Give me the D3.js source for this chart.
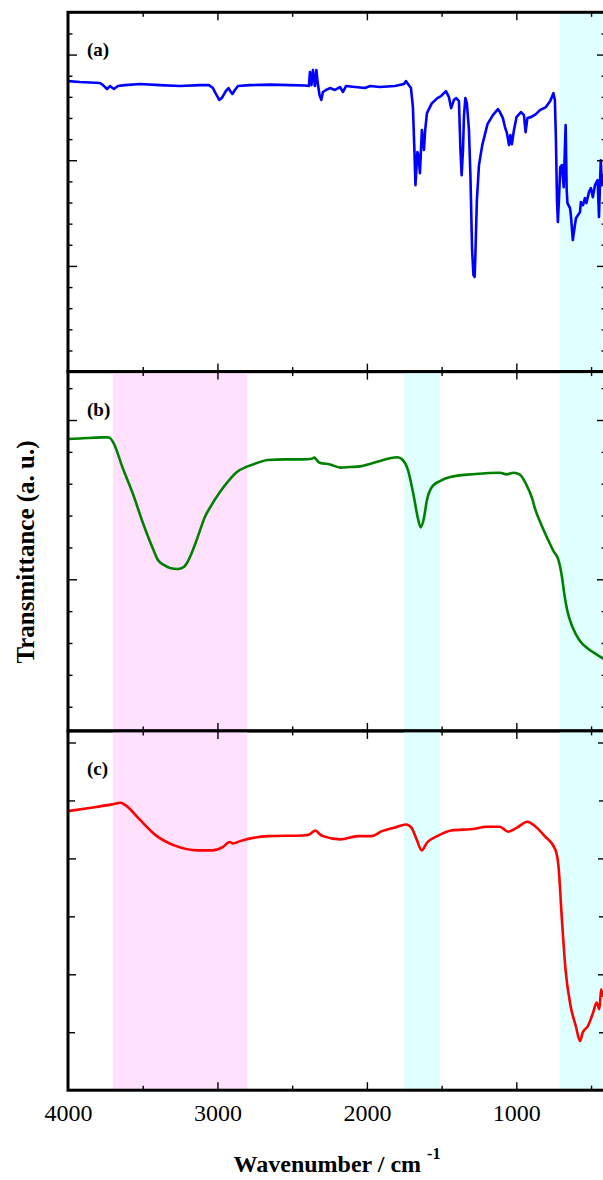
<!DOCTYPE html>
<html>
<head>
<meta charset="utf-8">
<script src="https://cdn.jsdelivr.net/npm/d3@7"></script>
<style>
body { margin: 0; background: #fff; }
svg { display: block; }
text { font-family: "Liberation Serif", "Times New Roman", serif; }
</style>
</head>
<body>
<svg id="chart" width="603" height="1180"></svg>
<script>
'use strict';

// spectrum (a) - blue
const wnA = [4000, 3920, 3786, 3766, 3739, 3719, 3693, 3666, 3619, 3518,
	3385, 3251, 3117, 3057, 3030, 3010, 2988, 2970, 2943, 2926,
	2910, 2900, 2883, 2863, 2783, 2649, 2515, 2415, 2388, 2381,
	2371, 2361, 2348, 2338, 2328, 2317, 2305, 2294, 2274, 2247,
	2214, 2180, 2160, 2140, 2080, 2013, 1979, 1913, 1812, 1752,
	1739, 1725, 1705, 1692, 1682, 1675, 1662, 1655, 1645, 1632,
	1618, 1610, 1598, 1565, 1528, 1504, 1471, 1451, 1436, 1418,
	1402, 1384, 1374, 1366, 1357, 1350, 1341, 1331, 1317, 1307,
	1296, 1287, 1279, 1274, 1264, 1250, 1228, 1193, 1157, 1123,
	1110, 1090, 1076, 1063, 1049, 1040, 1030, 1016, 999, 969,
	949, 938, 926, 902, 869, 842, 802, 773, 752, 742,
	735, 728, 722, 715, 706, 695, 683, 670, 663, 658,
	641, 635, 622, 608, 601, 574, 568, 554, 541, 531,
	514, 501, 488, 474, 456, 447, 435, 427, 414, 400];
const tA = [2.749, 2.740, 2.731, 2.711, 2.674, 2.702, 2.674, 2.702, 2.711, 2.721,
	2.711, 2.702, 2.711, 2.711, 2.683, 2.627, 2.571, 2.590, 2.656, 2.683,
	2.646, 2.627, 2.665, 2.702, 2.711, 2.716, 2.711, 2.707, 2.702, 2.834,
	2.711, 2.853, 2.702, 2.853, 2.721, 2.618, 2.571, 2.646, 2.665, 2.683,
	2.665, 2.693, 2.646, 2.702, 2.693, 2.683, 2.702, 2.693, 2.702, 2.721,
	2.749, 2.721, 2.683, 2.503, 2.097, 1.765, 2.078, 2.049, 1.878, 2.285,
	2.097, 2.285, 2.446, 2.540, 2.588, 2.607, 2.654, 2.597, 2.493, 2.569,
	2.588, 2.560, 2.097, 1.859, 2.097, 2.427, 2.588, 2.540, 2.285, 1.840,
	1.149, 0.913, 0.895, 1.103, 1.623, 1.954, 2.143, 2.342, 2.427, 2.484,
	2.456, 2.399, 2.314, 2.257, 2.143, 2.238, 2.152, 2.285, 2.408, 2.456,
	2.427, 2.266, 2.399, 2.408, 2.436, 2.474, 2.503, 2.560, 2.635, 2.569,
	2.191, 1.623, 1.415, 1.623, 1.935, 1.954, 1.745, 2.333, 1.718, 1.595,
	1.547, 1.481, 1.245, 1.387, 1.451, 1.509, 1.604, 1.575, 1.641, 1.595,
	1.698, 1.736, 1.651, 1.764, 1.812, 1.463, 2.000, 1.764, 1.859, 1.812];

// spectrum (b) - green
const wnB = [4000, 3920, 3776, 3733, 3719, 3694, 3637, 3567, 3498, 3428,
	3398, 3359, 3318, 3266, 3224, 3204, 3173, 3144, 3116, 3084,
	3046, 2983, 2930, 2870, 2803, 2736, 2663, 2548, 2432, 2368,
	2351, 2341, 2316, 2247, 2177, 2113, 2046, 1980, 1913, 1846,
	1795, 1760, 1725, 1690, 1656, 1640, 1621, 1598, 1564, 1511,
	1436, 1274, 1111, 1065, 1019, 976, 938, 891, 879, 832,
	787, 752, 718, 695, 678, 660, 625, 579, 509, 474,
	421, 400];
const tB = [1.881, 1.884, 1.891, 1.891, 1.887, 1.854, 1.707, 1.540, 1.352, 1.184,
	1.121, 1.090, 1.071, 1.065, 1.078, 1.102, 1.163, 1.234, 1.309, 1.391,
	1.456, 1.548, 1.613, 1.674, 1.707, 1.730, 1.749, 1.753, 1.753, 1.757,
	1.765, 1.755, 1.732, 1.721, 1.701, 1.705, 1.709, 1.724, 1.743, 1.760,
	1.766, 1.749, 1.686, 1.540, 1.372, 1.326, 1.372, 1.498, 1.581, 1.617,
	1.644, 1.661, 1.669, 1.659, 1.669, 1.657, 1.603, 1.498, 1.456, 1.341,
	1.247, 1.178, 1.121, 1.016, 0.901, 0.807, 0.702, 0.619, 0.556, 0.535,
	0.504, 0.493];

// spectrum (c) - red
const wnC = [4000, 3845, 3706, 3648, 3614, 3521, 3405, 3289, 3127, 3034,
	2965, 2918, 2896, 2849, 2663, 2432, 2386, 2344, 2314, 2293,
	2177, 2061, 1969, 1899, 1812, 1737, 1702, 1667, 1633, 1598,
	1529, 1436, 1274, 1204, 1111, 1054, 996, 926, 880, 810,
	740, 718, 695, 671, 637, 602, 574, 556, 521, 486,
	463, 444, 433, 421, 400];
const tC = [2.408, 2.437, 2.466, 2.480, 2.457, 2.336, 2.192, 2.112, 2.069, 2.069,
	2.097, 2.141, 2.129, 2.149, 2.192, 2.198, 2.207, 2.241, 2.207, 2.192,
	2.164, 2.192, 2.192, 2.235, 2.267, 2.293, 2.265, 2.164, 2.069, 2.135,
	2.192, 2.241, 2.256, 2.273, 2.273, 2.230, 2.265, 2.316, 2.284, 2.192,
	2.078, 1.934, 1.474, 1.043, 0.727, 0.554, 0.425, 0.497, 0.554, 0.670,
	0.756, 0.698, 0.871, 0.813, 0.871];

// shaded regions (wavenumber from, to)
const pinkBands = [[3700, 2800]];
const cyanBandsMid = [[1750, 1510]];
const cyanBandsLow = [[710, 400]];

const xMajorTicks = [4000, 3000, 2000, 1000];
const xMinorTicks = [3500, 2500, 1500, 500];
const panelLabels = ["(a)", "(b)", "(c)"];

const serif = '"Liberation Serif", "Times New Roman", serif';

let svg = d3.select("#chart");
let left = 68, right = 606;
let panelTop = [12.3, 371.6, 730.9], panelH = 359.3;

let x = d3.scaleLinear().domain([4000, 400]).range([left, right]);

let pink = "#ffe0fd", cyan = "#e0ffff";
let fullBands = pinkBands.map(b => [b, pink])
	.concat(cyanBandsMid.map(b => [b, cyan]), cyanBandsLow.map(b => [b, cyan]));

let panels = [
	{wn: wnA, t: tA, color: "#0000ff", domain: [0, 3.4],
	 major: [1, 2, 3], minor: [0.2, 0.4, 0.6, 0.8, 1.2, 1.4, 1.6, 1.8, 2.2, 2.4, 2.6, 2.8, 3.2],
	 majorLen: 9, minorLen: 4.5, bands: cyanBandsLow.map(b => [b, cyan])},
	{wn: wnB, t: tB, color: "#008000", domain: [0.048, 2.304],
	 major: [1, 2], minor: [0.2, 0.4, 0.6, 0.8, 1.2, 1.4, 1.6, 1.8, 2.2],
	 majorLen: 9, minorLen: 4.5, bands: fullBands},
	{wn: wnC, t: tC, color: "#ff0000", domain: [0, 3.1],
	 major: [1, 2, 3], minor: [0.5, 1.5, 2.5],
	 majorLen: 8, minorLen: 7, bands: fullBands}
];

panels.forEach(function (p, i) {
	let top = panelTop[i], bottom = top + panelH;
	let y = d3.scaleLinear().domain(p.domain).range([bottom, top]);
	let g = svg.append("g");

	g.append("clipPath").attr("id", "clip" + i)
		.append("rect").attr("x", left).attr("y", top).attr("width", right - left).attr("height", panelH);

	g.selectAll(".band")
		.data(p.bands)
		.enter().append("rect")
		.attr("x", d => x(d[0][0]))
		.attr("width", d => x(d[0][1]) - x(d[0][0]))
		.attr("y", top)
		.attr("height", panelH)
		.attr("fill", d => d[1]);

	let line = d3.line()
		.x(d => x(d[0]))
		.y(d => y(d[1]))
		.curve(i == 0 ? d3.curveLinear : d3.curveMonotoneX);

	g.append("path")
		.datum(d3.zip(p.wn, p.t))
		.attr("clip-path", "url(#clip" + i + ")")
		.attr("fill", "none")
		.attr("stroke", p.color)
		.attr("stroke-width", 2.6)
		.attr("stroke-linejoin", "round")
		.attr("d", line);

	// inward ticks on all four sides
	let addAxis = function (axis, tx, ty) {
		let a = g.append("g").attr("transform", "translate(" + tx + "," + ty + ")").call(axis);
		a.select(".domain").remove();
		a.selectAll("line").attr("stroke-width", 1.4);
		a.selectAll("text").remove();
	};
	addAxis(d3.axisLeft(y).tickValues(p.major).tickSize(-p.majorLen), left, 0);
	addAxis(d3.axisLeft(y).tickValues(p.minor).tickSize(-p.minorLen), left, 0);
	addAxis(d3.axisRight(y).tickValues(p.major).tickSize(-p.majorLen), right, 0);
	addAxis(d3.axisRight(y).tickValues(p.minor).tickSize(-p.minorLen), right, 0);
	addAxis(d3.axisTop(x).tickValues(xMajorTicks.slice(1)).tickSize(-8), 0, top);
	addAxis(d3.axisTop(x).tickValues(xMinorTicks).tickSize(-4.5), 0, top);
	addAxis(d3.axisBottom(x).tickValues(xMajorTicks.slice(1)).tickSize(-8), 0, bottom);
	addAxis(d3.axisBottom(x).tickValues(xMinorTicks).tickSize(-4.5), 0, bottom);

	g.append("rect")
		.attr("x", left).attr("y", top)
		.attr("width", right - left).attr("height", panelH)
		.attr("fill", "none").attr("stroke", "#000").attr("stroke-width", 3);

	g.append("text")
		.attr("x", 87).attr("y", top + 44)
		.style("font-family", serif)
		.style("font-size", "19px").style("font-weight", "bold")
		.text(panelLabels[i]);
});

// x tick labels under the last panel
let xl = svg.append("g")
	.attr("transform", "translate(0," + (panelTop[2] + panelH) + ")")
	.call(d3.axisBottom(x).tickValues(xMajorTicks).tickSize(0).tickPadding(14).tickFormat(d3.format("d")));
xl.select(".domain").remove();
xl.selectAll("text")
	.style("font-family", serif)
	.style("font-size", "24px")
	.attr("fill", "#000");

let xt = svg.append("text")
	.attr("x", 337).attr("y", 1172)
	.attr("text-anchor", "middle")
	.style("font-family", serif)
	.style("font-size", "24px").style("font-weight", "bold");
xt.append("tspan").text("Wavenumber / cm ");
xt.append("tspan").style("font-size", "16px").attr("dy", -13).text("-1");

svg.append("text")
	.attr("transform", "translate(34,552) rotate(-90)")
	.attr("text-anchor", "middle")
	.style("font-family", serif)
	.style("font-size", "25px").style("font-weight", "bold")
	.text("Transmittance (a. u.)");
</script>
</body>
</html>
